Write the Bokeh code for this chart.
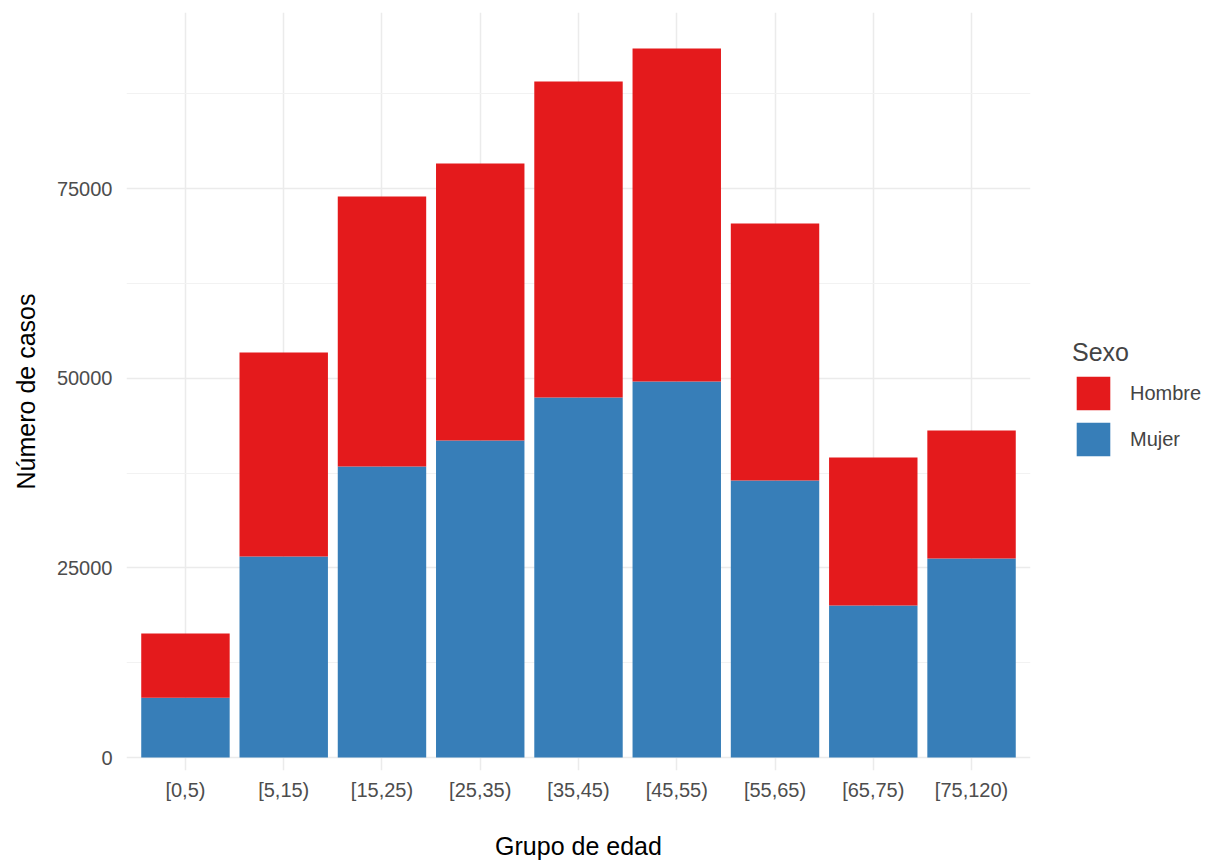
from bokeh.plotting import figure
from bokeh.models import FactorRange, Range1d, FixedTicker, Legend, LegendItem, ColumnDataSource
from bokeh.embed import file_html
from bokeh.resources import INLINE

grupos = ["[0,5)", "[5,15)", "[15,25)", "[25,35)", "[35,45)", "[45,55)", "[55,65)", "[65,75)", "[75,120)"]
mujer = [7900, 26490, 38350, 41780, 47450, 49560, 36510, 20030, 26230]
hombre = [8440, 26890, 35590, 36510, 41650, 43890, 33870, 19510, 16870]

FONT = "Liberation Sans"
total = [m + h for m, h in zip(mujer, hombre)]
src = ColumnDataSource(dict(g=grupos, mujer=mujer, total=total, zero=[0] * len(grupos)))

p = figure(x_range=FactorRange(*grupos, range_padding=0.1, range_padding_units="absolute"),
           y_range=Range1d(-1700, 98200),
           frame_width=904, frame_height=758, min_border_left=126, min_border_top=12,
           min_border_bottom=85, min_border_right=10,
           output_backend="svg", toolbar_location=None, outline_line_color=None)

r_m = p.vbar(x="g", bottom="zero", top="mujer", width=0.9, source=src, color="#377EB8", line_color=None)
r_h = p.vbar(x="g", bottom="mujer", top="total", width=0.9, source=src, color="#E41A1C", line_color=None)

p.yaxis.ticker = FixedTicker(ticks=[0, 25000, 50000, 75000], minor_ticks=[12500, 37500, 62500, 87500])
p.ygrid.minor_grid_line_color = "#F2F2F2"
p.ygrid.grid_line_color = "#EBEBEB"
p.xgrid.grid_line_color = "#EBEBEB"
p.ygrid.grid_line_width = 1.5
p.xgrid.grid_line_width = 1.5
for ax in (p.xaxis, p.yaxis):
    ax.axis_line_color = None
    ax.major_tick_line_color = None
    ax.minor_tick_line_color = None
    ax.major_label_text_font = FONT
    ax.major_label_text_font_size = "20px"
    ax.major_label_text_color = "#4D4D4D"
    ax.axis_label_text_font = FONT
    ax.axis_label_text_font_size = "25px"
    ax.axis_label_text_font_style = "normal"
    ax.axis_label_text_color = "black"
p.xaxis.axis_label = "Grupo de edad"
p.yaxis.axis_label = "Número de casos"
p.yaxis.major_label_standoff = 8
p.yaxis.axis_label_standoff = 14
p.xaxis.major_label_standoff = 2
p.xaxis.axis_label_standoff = 28

legend = Legend(items=[LegendItem(label="Hombre", renderers=[r_h]), LegendItem(label="Mujer", renderers=[r_m])],
                title="Sexo", title_text_font=FONT, title_text_font_size="25px",
                title_text_font_style="normal", label_text_font=FONT, label_text_font_size="20px",
                glyph_width=42, glyph_height=42, spacing=4, label_standoff=16,
                border_line_color=None, background_fill_alpha=0, margin=0, padding=8,
                location=(42, 310))
p.add_layout(legend, "right")

open("out.html", "w").write(file_html(p, INLINE))
